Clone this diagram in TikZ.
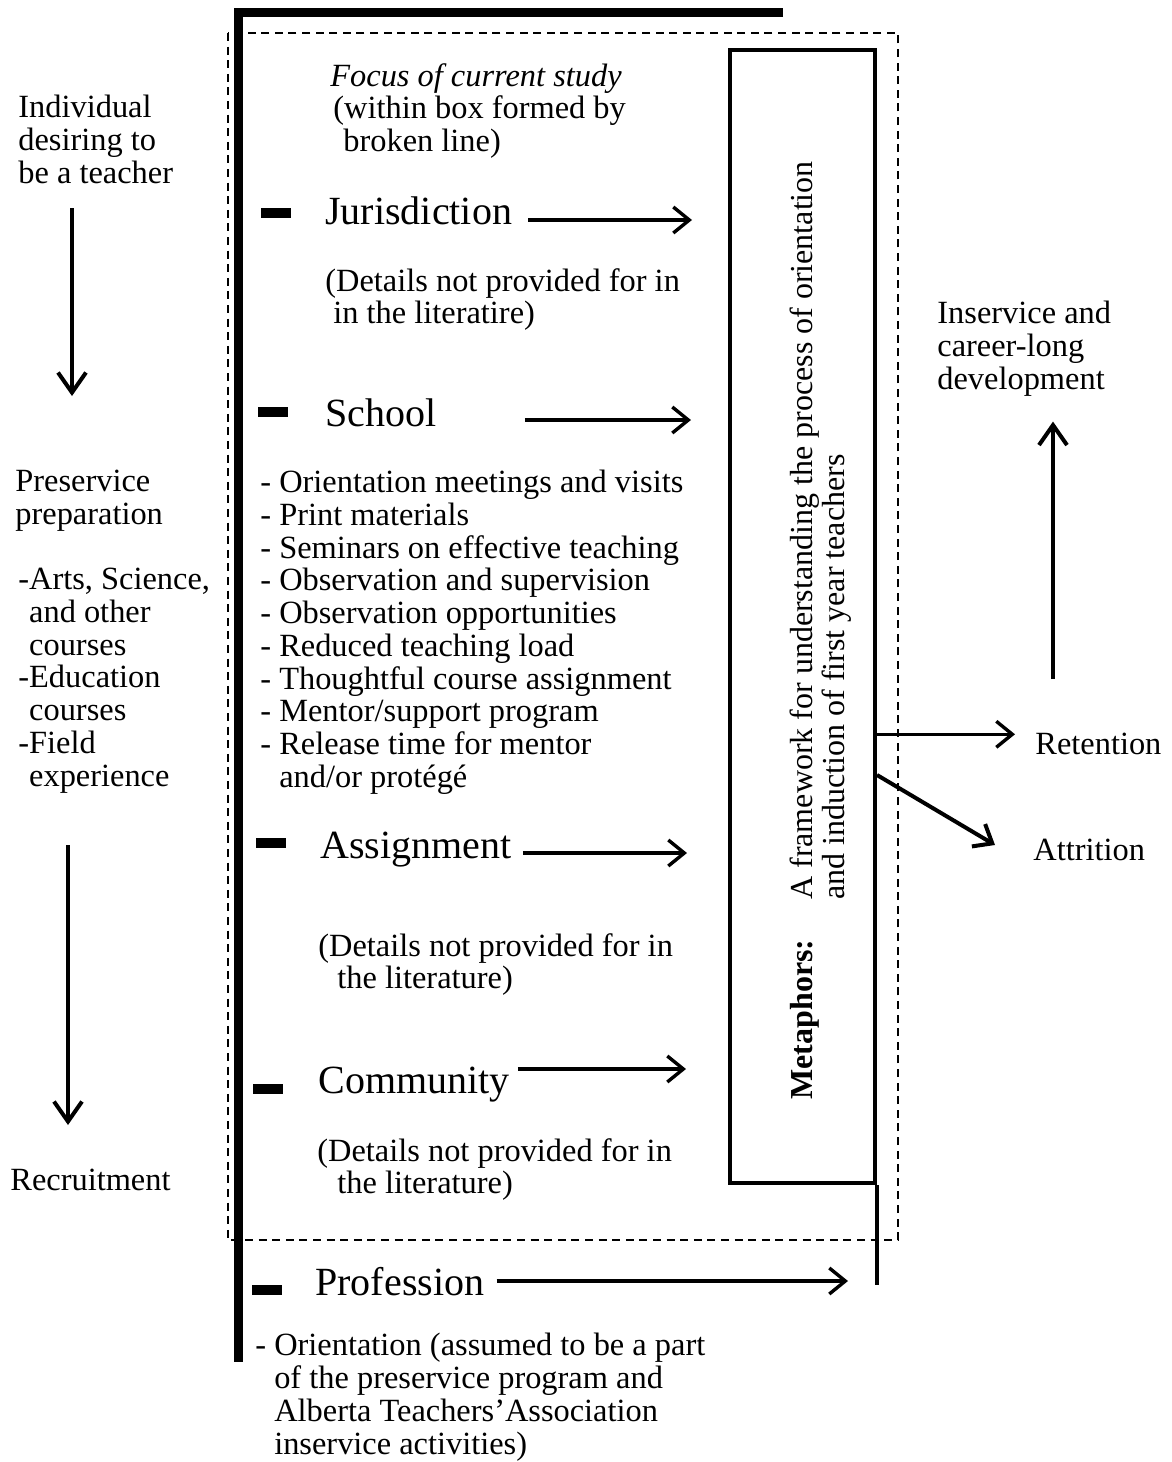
\documentclass[tikz,border=0pt]{standalone}
\usepackage{fontspec}
\setmainfont{Liberation Serif}
\usetikzlibrary{arrows.meta}

\begin{document}
\begin{tikzpicture}[x=0.5pt,y=-0.5pt,
    txt/.style={inner sep=0pt, align=left, anchor=north west, font=\fontsize{16.2}{16.35}\selectfont},
    heading/.style={inner sep=0pt, anchor=base west, font=\fontsize{20}{22}\selectfont},
    marker/.style={fill, inner sep=0pt, minimum width=15pt, minimum height=4.8pt},
    arr/.style={line width=1.7pt, -{Straight Barb[length=8pt,width=13pt]}},
    bigarr/.style={line width=2pt, -{Straight Barb[length=10pt,width=14pt]}},
    dashbox/.style={line width=1.2pt, dash pattern=on 4pt off 2.8pt}]
    \useasboundingbox (0,0) rectangle (1172,1462);

    % broken line box and the thick frame
    \draw[dashbox] (228,33) rectangle (898,1240);
    \draw[line width=4.5pt] (783,12) -- (238,12) -- (238,1362);

    % left column
    \node[txt] (indiv) at (18,95) {Individual\\desiring to\\be a teacher};
    \node[txt] (prep) at (15,470) {Preservice\\preparation};
    \node[txt] (courses) at (18,568) {-Arts, Science,\\\phantom{-}and other\\\phantom{-}courses\\-Education\\\phantom{-}courses\\-Field\\\phantom{-}experience};
    \node[txt] (recruit) at (10,1169) {Recruitment};
    \coordinate (downa) at (72,0);
    \coordinate (downb) at (68,0);
    \draw[bigarr, shorten <=12pt, shorten >=37pt] (indiv.south -| downa) -- (prep.north -| downa);
    \draw[bigarr, shorten <=26pt, shorten >=22pt] (courses.south -| downb) -- (recruit.north -| downb);

    % focus of the study
    \node[txt] (focus) at (330,63) {\textit{Focus of current study}\\\hspace*{1.5pt}(within box formed by\\\hspace*{6.5pt}broken line)};

    \node[marker] (jurbar) at (276,213) {};
    \node[heading] (jur) at (325,224) {Jurisdiction};
    \node[txt] (jurdet) at (325,268) {(Details not provided for in\\\hspace*{4pt}in the literatire)};

    \node[marker] (schoolbar) at (273,412) {};
    \node[heading] (school) at (325,426) {School};
    \node[txt] (schoollist) at (260,470) {- Orientation meetings and visits\\- Print materials\\- Seminars on effective teaching\\- Observation and supervision\\- Observation opportunities\\- Reduced teaching load\\- Thoughtful course assignment\\- Mentor/support program\\- Release time for mentor\\\phantom{- }and/or protégé};

    \node[marker] (assignbar) at (271,843) {};
    \node[heading] (assign) at (320,858) {Assignment};
    \node[txt] (assigndet) at (318,933) {(Details not provided for in\\\hspace*{9.5pt}the literature)};

    \node[marker] (commbar) at (268,1089) {};
    \node[heading] (comm) at (318,1093) {Community};
    \node[txt] (commdet) at (317,1138) {(Details not provided for in\\\hspace*{10pt}the literature)};

    \node[marker] (profbar) at (267,1290) {};
    \node[heading] (prof) at (315,1295) {Profession};
    \node[txt] (proflist) at (255,1333) {- Orientation (assumed to be a part\\\phantom{- }of the preservice program and\\\phantom{- }Alberta Teachers’Association\\\phantom{- }inservice activities)};

    % metaphors box
    \node[draw, line width=2pt, inner sep=0pt, minimum width=72.5pt, minimum height=566.5pt] (meta) at (802.5,616.5) {};
    \draw[line width=2pt] (meta.south east) -- ++(0,100);
    \node[rotate=90, anchor=base west, inner sep=0pt, font=\fontsize{16}{16}\selectfont] (frame) at (812,1100)
        {\textbf{Metaphors:}\hspace{20pt}\begin{tabular}[t]{@{}l@{}}A framework for understanding the process of orientation\\and induction of first year teachers\end{tabular}};

    \coordinate (jurtip) at (692,220);
    \coordinate (schooltip) at (691,420);
    \coordinate (assigntip) at (687,853);
    \coordinate (commtip) at (686,1069);
    \coordinate (proftip) at (848,1281);
    \draw[arr] ([xshift=8pt]jur.east |- jurtip) -- (jurtip);
    \draw[arr] ([xshift=44pt]school.east |- schooltip) -- (schooltip);
    \draw[arr] ([xshift=5.5pt]assign.east |- assigntip) -- (assigntip);
    \draw[arr] ([xshift=4pt]comm.east |- commtip) -- (commtip);
    \draw[arr] ([xshift=6pt]prof.east |- proftip) -- (proftip);

    % outcomes on the right
    \node[txt] (inserv) at (937,301) {Inservice and\\career-long\\development};
    \node[txt] (reten) at (1035,733) {Retention};
    \node[txt] (attr) at (1033,839) {Attrition};
    \coordinate (rettip) at ([xshift=-10pt,yshift=5pt]reten.west);
    \coordinate (split) at (875,775);
    \coordinate (attrtip) at (995,845);
    \coordinate (upx) at (1053,0);
    \draw[arr] (meta.east |- rettip) -- (rettip);
    \draw[arr, line width=2pt] (meta.east |- split) -- (attrtip);
    \draw[bigarr, shorten <=27pt, shorten >=12.5pt] (reten.north -| upx) -- (inserv.south -| upx);
\end{tikzpicture}
\end{document}
